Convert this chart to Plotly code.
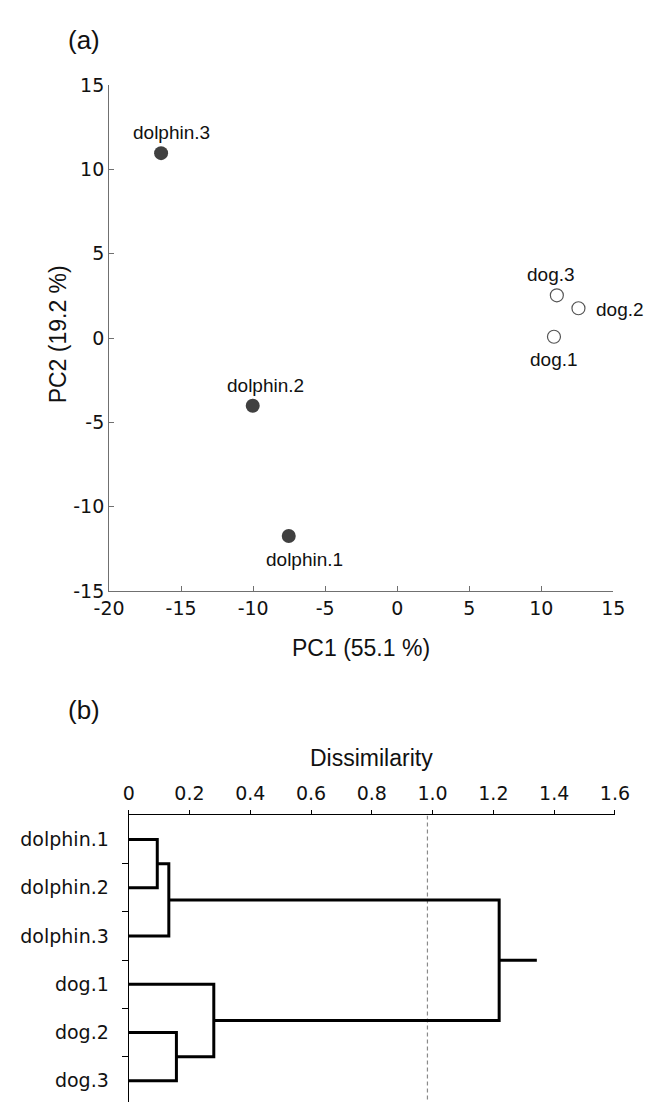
import plotly.graph_objects as go

# ---------------- data ----------------
# (a) PCA scores
pca_names = ["dolphin.1", "dolphin.2", "dolphin.3", "dog.1", "dog.2", "dog.3"]
pc1 = [-7.53, -10.03, -16.39, 10.88, 12.58, 11.08]
pc2 = [-11.74, -4.01, 10.97, 0.08, 1.77, 2.54]
group = ["dolphin", "dolphin", "dolphin", "dog", "dog", "dog"]
pc1_ticks = [-20, -15, -10, -5, 0, 5, 10, 15]
pc1_ticktext = ["-20", "-15", "-10", "-5", "0", "5", "10", "15"]
pc2_ticks = [-15, -10, -5, 0, 5, 10, 15]
pc2_ticktext = ["-15", "-10", "-5", "0", "5", "10", "15"]

# (b) hierarchical clustering (leaf order top -> bottom)
leaves = ["dolphin.1", "dolphin.2", "dolphin.3", "dog.1", "dog.2", "dog.3"]
merge_a = [0, 4, 6, 3, 8]
merge_b = [1, 5, 2, 7, 9]
merge_height = [0.094, 0.157, 0.132, 0.280, 1.219]
root_stub_end = 1.343
cut_height = 0.983
diss_ticks = [0, 0.2, 0.4, 0.6, 0.8, 1.0, 1.2, 1.4, 1.6]
diss_ticktext = ["0", "0.2", "0.4", "0.6", "0.8", "1.0", "1.2", "1.4", "1.6"]

# ---------------- style ----------------
W, H = 655, 1113
FONT = "Liberation Sans, Arial, sans-serif"
TICKFONT = "DejaVu Sans, Liberation Sans, sans-serif"
label_dx = [16, 13, 10, 0, 16, -6]     # pixel offsets of point labels
label_dy = [-23, 20, 21, -23, -1, 21]
label_anchor = ["center", "center", "center", "center", "left", "center"]

def px(xp):
    return xp / W

def py(yp):
    return 1 - yp / H

fig = go.Figure()

# ---- (a) scatter ----
dol = [i for i, g in enumerate(group) if g == "dolphin"]
dog = [i for i, g in enumerate(group) if g == "dog"]
fig.add_trace(go.Scatter(
    x=[pc1[i] for i in dol], y=[pc2[i] for i in dol], mode="markers",
    marker=dict(size=14, color="#404040", line=dict(width=0)),
    xaxis="x", yaxis="y", showlegend=False, hoverinfo="skip"))
fig.add_trace(go.Scatter(
    x=[pc1[i] for i in dog], y=[pc2[i] for i in dog], mode="markers",
    marker=dict(size=13, color="white", line=dict(width=1.2, color="#555555")),
    xaxis="x", yaxis="y", showlegend=False, hoverinfo="skip"))

annotations = []
for i, n in enumerate(pca_names):
    annotations.append(dict(
        x=pc1[i], y=pc2[i], xref="x", yref="y", text=n, showarrow=False,
        xshift=label_dx[i], yshift=label_dy[i], xanchor=label_anchor[i], yanchor="middle",
        font=dict(family=FONT, size=19, color="#111111")))

# ---- (b) dendrogram ----
node_x = [0.0] * len(leaves)
node_y = [float(i) for i in range(len(leaves))]
seg_x, seg_y = [], []
for a, b, h in zip(merge_a, merge_b, merge_height):
    xa, ya, xb, yb = node_x[a], node_y[a], node_x[b], node_y[b]
    seg_x += [xa, h, h, xb, None]
    seg_y += [ya, ya, yb, yb, None]
    node_x.append(h)
    node_y.append((ya + yb) / 2)
seg_x += [node_x[-1], root_stub_end, None]
seg_y += [node_y[-1], node_y[-1], None]

fig.add_trace(go.Scatter(
    x=[cut_height, cut_height], y=[-0.5, 5.44], mode="lines",
    line=dict(color="#8a8a8a", width=1.2, dash="4px,3px"),
    xaxis="x2", yaxis="y2", showlegend=False, hoverinfo="skip"))
fig.add_trace(go.Scatter(
    x=seg_x, y=seg_y, mode="lines",
    line=dict(color="black", width=3),
    xaxis="x2", yaxis="y2", showlegend=False, hoverinfo="skip"))

# ---- text labels ----
def txt(x, y, s, size, angle=0):
    annotations.append(dict(x=px(x), y=py(y), xref="paper", yref="paper", text=s,
                            showarrow=False, xanchor="center", yanchor="middle",
                            textangle=angle, font=dict(family=FONT, size=size, color="#111111")))

txt(71, 30, "(a)", 26)
txt(71, 713, "(b)", 26)
txt(362.5, 650, "PC1 (55.1 %)", 23)
txt(45, 330, "PC2 (19.2 %)", 23, -90)
txt(373, 762, "Dissimilarity", 23)

axis_a = dict(showgrid=False, zeroline=False, showline=True, linecolor="#707070", linewidth=1,
              ticks="inside", ticklen=5, tickcolor="#707070", tickwidth=1,
              tickfont=dict(family=TICKFONT, size=19, color="#111111"))

fig.update_layout(
    width=W, height=H, margin=dict(l=0, r=0, t=0, b=0),
    paper_bgcolor="white", plot_bgcolor="white",
    font=dict(family=FONT, color="#111111"),
    xaxis=dict(domain=[px(97.7), px(627)], range=[-20, 15], anchor="y",
               tickvals=pc1_ticks, ticktext=pc1_ticktext, **axis_a),
    yaxis=dict(domain=[py(591.7), py(75.7)], range=[-15, 15], anchor="x",
               tickvals=pc2_ticks, ticktext=pc2_ticktext, **axis_a),
    xaxis2=dict(domain=[px(118.3), px(628.7)], range=[0, 1.6], anchor="y2", side="top",
                showgrid=False, zeroline=False, showline=True, linecolor="black", linewidth=1.2,
                ticks="outside", ticklen=4, tickcolor="black", tickwidth=1.2,
                ticklabelstandoff=3,
                tickvals=diss_ticks, ticktext=diss_ticktext,
                tickfont=dict(family=TICKFONT, size=19, color="#111111")),
    yaxis2=dict(domain=[0, py(820.7)], range=[5.44, -0.5], anchor="x2",
                showgrid=False, zeroline=False, showline=True, linecolor="black", linewidth=1.2,
                ticks="", tickvals=list(range(len(leaves))), ticktext=leaves,
                ticklabelstandoff=15,
                tickfont=dict(family=TICKFONT, size=19, color="#111111"),
                minor=dict(tickmode="array", tickvals=[i + 0.5 for i in range(len(leaves) - 1)],
                           ticks="outside", ticklen=6, tickcolor="black", tickwidth=1.2)),
    annotations=annotations,
)

fig.write_html("out.html", config={"displayModeBar": False},
               post_script="document.body.style.margin='0';document.body.style.overflow='hidden';")
